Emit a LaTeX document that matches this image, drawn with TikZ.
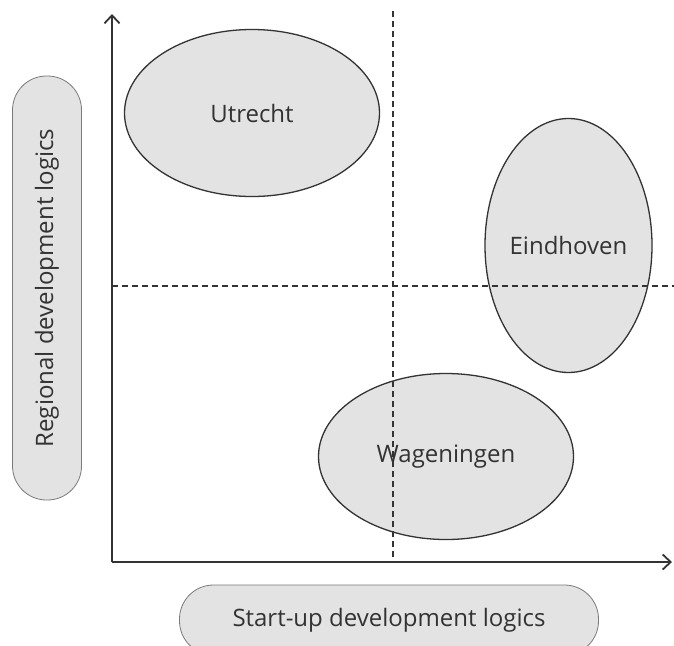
\documentclass[tikz,border=0pt]{standalone}
\usepackage{fontspec}
\setmainfont{Open Sans}
\usetikzlibrary{arrows.meta, shapes.geometric}

\definecolor{cityfill}{HTML}{E3E3E3}
\definecolor{inkgray}{HTML}{333333}
\definecolor{boxline}{HTML}{7A7A7A}

\tikzset{
    city/.style={ellipse, draw=inkgray, fill=cityfill, line width=1.3pt, inner sep=0pt, text=inkgray, font=\fontsize{24}{28}\selectfont},
    axisbox/.style={rectangle, rounded corners=34pt, draw=boxline, fill=cityfill, line width=0.8pt, inner sep=0pt, text=inkgray, font=\fontsize{24}{28}\selectfont},
    quadrant/.style={dashed, dash pattern=on 6pt off 4pt, line width=1.3pt, color=inkgray}
}

\begin{document}
\begin{tikzpicture}[x=1pt, y=-1pt]
    \clip (0,0) rectangle (674,645);
    \useasboundingbox (0,0) rectangle (674,645);

    % axis labels
    \node [axisbox, rotate=90, minimum width=424pt, minimum height=69pt] (ylabel) at (47,288) {Regional development logics};
    \node [axisbox, minimum width=419pt, minimum height=70pt] (xlabel) at (389,620) {Start-up development logics};

    % clusters
    \node [city, minimum width=255pt, minimum height=167pt] (utrecht) at (252,113) {Utrecht};
    \node [city, minimum width=167pt, minimum height=254pt] (eindhoven) at (568.5,245.5) {Eindhoven};
    \node [city, minimum width=255pt, minimum height=166pt] (wageningen) at (446,456.5) {Wageningen};

    % axes
    \coordinate (O) at (112,562);
    \coordinate (Ytop) at (112,14);
    \coordinate (Xend) at (672,562);
    \draw [-{Straight Barb[length=8pt, width=15pt]}, line width=1.8pt, color=inkgray] (O) -- (Ytop);
    \draw [-{Straight Barb[length=8pt, width=15pt]}, line width=1.8pt, color=inkgray] (O) -- (Xend);

    % quadrant split
    \coordinate (Vtop) at (393,11);
    \coordinate (Vbot) at (393,559);
    \coordinate (Hleft) at (112,286);
    \coordinate (Hright) at (674,286);
    \draw [quadrant] (Vtop) -- (Vbot);
    \draw [quadrant] (Hleft) -- (Hright);
\end{tikzpicture}
\end{document}
